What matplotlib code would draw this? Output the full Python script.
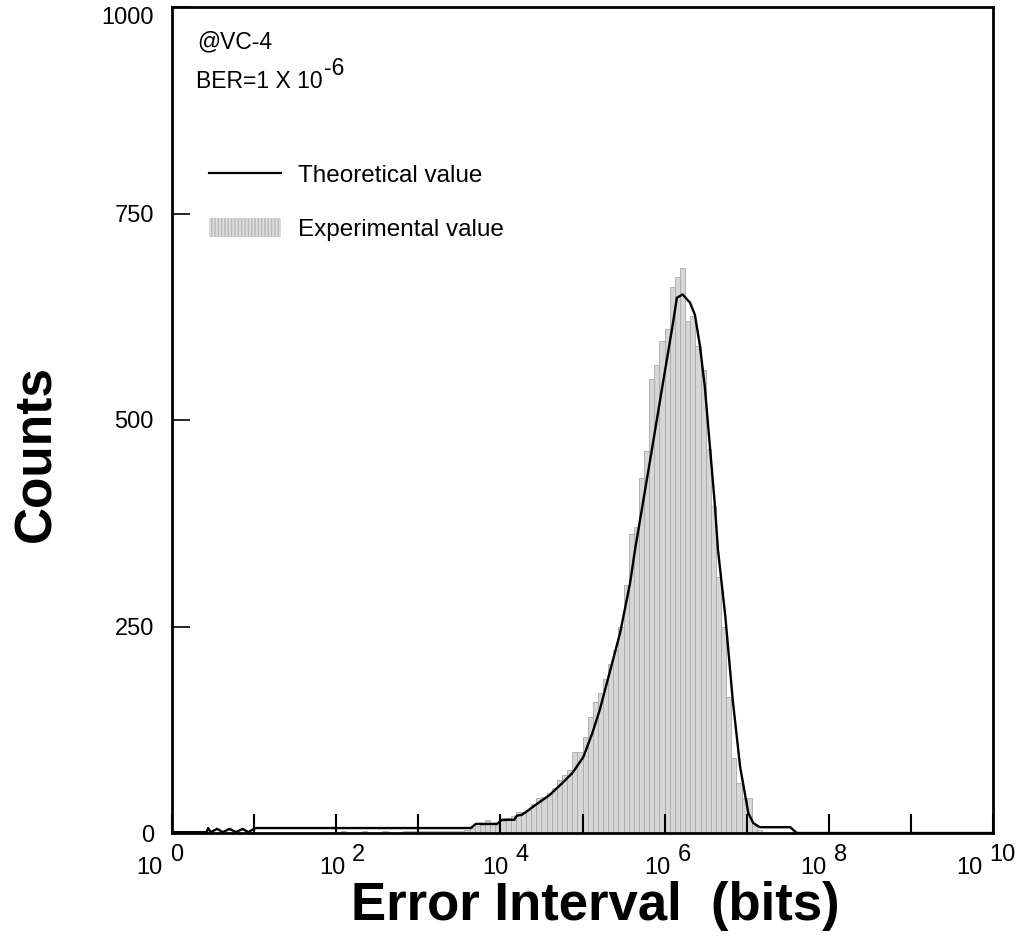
import numpy as np
import matplotlib
matplotlib.use('Agg')
import matplotlib.pyplot as plt
from matplotlib.lines import Line2D
from matplotlib.patches import Patch
from matplotlib.ticker import FixedLocator, NullLocator, NullFormatter

plt.rcParams['font.family'] = ['Liberation Sans', 'DejaVu Sans']

# experimental histogram, bins in log10(bits)
bin_start = 2.0
bin_step = 0.0625
counts_exp = [
    0, 3, 0, 0, 0, 3, 0, 0, 0, 3, 0, 0, 0, 3, 3, 3, 3, 3, 3, 3, 3, 2, 3, 2,
    3, 4, 6, 8, 10, 16, 12, 10, 14, 18, 20, 25, 26, 28, 35, 42, 44, 48, 55, 64,
    70, 76, 98, 98, 116, 140, 159, 170, 186, 205, 222, 250, 300, 362, 371, 430,
    462, 550, 566, 596, 610, 661, 673, 684, 620, 626, 590, 560, 465, 396, 310,
    250, 165, 91, 60, 42, 42, 8, 4,
]

# theoretical curve (log10 of bits, counts)
theo_logx = [0.0, 0.42, 0.44, 0.47, 0.55, 0.62, 0.70, 0.78, 0.86, 0.93, 0.98, 1.02,
             3.64, 3.70, 3.96, 4.02, 4.17, 4.20, 4.26, 4.32, 4.40, 4.50, 4.60, 4.76,
             4.88, 5.01, 5.12, 5.21, 5.33, 5.46, 5.58, 5.64, 5.74, 5.86, 5.97, 6.09,
             6.15, 6.22, 6.31, 6.37, 6.43, 6.49, 6.55, 6.61, 6.65, 6.74, 6.83, 6.92,
             7.02, 7.08, 7.16, 7.53, 7.61, 10.0]
theo_y = [1, 1, 6, 1, 5, 1, 5, 1, 5, 1, 4, 6,
          6, 11, 11, 16, 16, 21, 22, 26, 32, 39, 46, 61,
          73, 92, 121, 149, 194, 243, 303, 343, 402, 473, 539, 610,
          648, 652, 642, 627, 590, 540, 470, 400, 343, 262, 161, 80,
          24, 12, 7, 7, 0, 0]

decades = list(range(11))
decade_labels = [0, 2, 4, 6, 8, 10]
label_nudge = [-9, 9, 8, 6, -2, -11]   # px shift of "10" right edge from tick

fig = plt.figure(figsize=(10.22, 9.41), dpi=100)
ax = fig.add_axes([172/1022, 1-833/941, 821/1022, 826/941])

left = bin_start + bin_step*np.arange(len(counts_exp))
x0 = 10**left
x1 = 10**(left + bin_step)
ax.bar(x0, counts_exp, width=x1-x0, align='edge', color='#d6d6d6',
       edgecolor='#a9a9a9', linewidth=0.6)

ax.plot(10**np.array(theo_logx), theo_y, color='black', lw=1.7)

ax.set_xscale('log')
ax.set_xlim(1, 1e10)
ax.set_ylim(0, 1000)
ax.xaxis.set_major_locator(FixedLocator([10.0**d for d in decades]))
ax.xaxis.set_minor_locator(NullLocator())
ax.xaxis.set_major_formatter(NullFormatter())
ax.set_yticks([0, 250, 500, 750, 1000])
ax.set_yticklabels(['0', '250', '500', '750', '1000'])
ax.tick_params(axis='x', direction='in', length=14, width=1.5)
ax.tick_params(axis='y', direction='in', length=13, width=1.2, labelsize=17, pad=13)
ax.get_yticklabels()[-1].set_va('top')
for s in ax.spines.values():
    s.set_linewidth(2)

# decade labels written as "10" with a raised exponent
px = 72/100
for d, nd in zip(decade_labels, label_nudge):
    ax.annotate('10', xy=(10.0**d, 0), xycoords=('data', 'axes fraction'),
                xytext=(nd*px, -24*px), textcoords='offset points',
                ha='right', va='top', fontsize=17, annotation_clip=False)
    ax.annotate(str(d), xy=(10.0**d, 0), xycoords=('data', 'axes fraction'),
                xytext=((nd+7)*px, -11*px), textcoords='offset points',
                ha='left', va='top', fontsize=17, annotation_clip=False)

ax.text(0.0305, 0.950, '@VC-4', transform=ax.transAxes, fontsize=16.5,
        va='baseline', ha='left')
ber = ax.text(0.029, 0.902, 'BER=1 X 10', transform=ax.transAxes, fontsize=16.5,
              va='baseline', ha='left')
ax.annotate('-6', xy=(1.0, 0.55), xycoords=ber, xytext=(1, 0),
            textcoords='offset points', fontsize=16.5, ha='left', va='bottom')

handles = [Line2D([], [], color='black', lw=1.6),
           Patch(facecolor='#dedede', edgecolor='#b8b8b8', hatch='|||||', lw=0)]
ax.legend(handles, ['Theoretical value', 'Experimental value'], loc='upper left',
          bbox_to_anchor=(0.045, 0.810), frameon=False, fontsize=17.5,
          borderpad=0, borderaxespad=0, handlelength=2.96, handleheight=0.82,
          handletextpad=0.7, labelspacing=1.28)

fig.text(37/1022, 1-453/941, 'Counts', rotation=90, ha='center', va='center',
         fontsize=37, fontweight='bold')
fig.text(595/1022, 1-906/941, 'Error Interval  (bits)', ha='center', va='center',
         fontsize=38, fontweight='bold')

fig.savefig('out.png', dpi=100)
